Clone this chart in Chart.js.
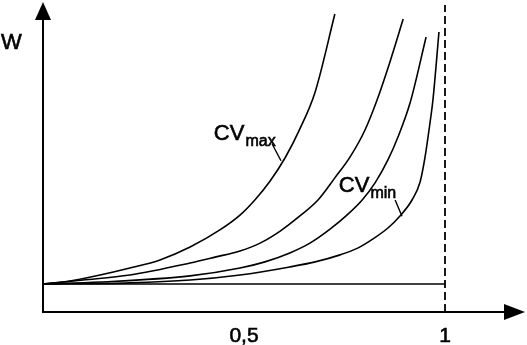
<!DOCTYPE html>
<html lang="en">
<head>
<title>W curves</title>
<meta charset="UTF-8">
<script src="https://cdn.jsdelivr.net/npm/chart.js@4.4.1/dist/chart.umd.min.js"></script>
<style>
body {margin:0;background:#fff;}
canvas {display:block;}
</style>
</head>
<body>
<canvas id="chartW" width="527" height="345"></canvas>
<script>
// curves, x = relative value, y = W (baseline W0 = 1)
var xCVmax = [0, 0.067, 0.142, 0.216, 0.291, 0.366, 0.440, 0.490, 0.527, 0.565, 0.602, 0.639, 0.677, 0.726];
var yCVmax = [1.0, 1.11, 1.32, 1.57, 1.86, 2.32, 2.93, 3.46, 4.0, 4.68, 5.5, 6.54, 7.86, 10.64];

var xCurve2 = [0, 0.100, 0.216, 0.366, 0.428, 0.490, 0.540, 0.590, 0.639, 0.684, 0.726, 0.764, 0.801, 0.831, 0.863, 0.896];
var yCurve2 = [1.0, 1.14, 1.32, 1.75, 1.96, 2.18, 2.46, 2.89, 3.43, 4.0, 4.79, 5.54, 6.5, 7.57, 8.93, 10.46];

var xCurve3 = [0, 0.142, 0.366, 0.490, 0.552, 0.614, 0.664, 0.714, 0.756, 0.794, 0.826, 0.858, 0.883, 0.913, 0.953];
var yCurve3 = [1.0, 1.07, 1.29, 1.57, 1.79, 2.11, 2.46, 2.96, 3.46, 4.0, 4.61, 5.43, 6.25, 7.46, 9.82];

var xCVmin = [0, 0.216, 0.366, 0.490, 0.614, 0.677, 0.739, 0.784, 0.821, 0.858, 0.888, 0.918, 0.938, 0.950, 0.963, 0.970, 0.985];
var yCVmin = [1.0, 1.04, 1.14, 1.32, 1.61, 1.79, 2.04, 2.29, 2.61, 3.0, 3.43, 4.0, 4.64, 5.5, 6.79, 7.57, 10.0];

var xBase = [0, 1];
var yBase = [1, 1];

var xLimit = [1, 1];
var yLimit = [0, 10.96];

var xTickValues = [0.5, 1];
var xTickLabels = ["0,5", "1"];

function pts(xs, ys) {
  var out = [];
  for (var i = 0; i < xs.length; i++) out.push({x: xs[i], y: ys[i]});
  return out;
}

function curve(xs, ys) {
  return {
    data: pts(xs, ys),
    borderColor: "#000",
    borderWidth: 1.6,
    pointRadius: 0,
    fill: false,
    cubicInterpolationMode: "monotone"
  };
}

// axes with arrows, tick labels and the CV labels
var decor = {
  id: "decor",
  afterDatasetsDraw: function(chart) {
    var ctx = chart.ctx;
    var sx = chart.scales.x, sy = chart.scales.y;
    var x0 = sx.getPixelForValue(0), y0 = sy.getPixelForValue(0);
    var right = chart.chartArea.right, top = chart.chartArea.top;
    ctx.save();
    ctx.strokeStyle = "#000";
    ctx.fillStyle = "#000";
    ctx.lineWidth = 2;
    ctx.beginPath();
    ctx.moveTo(x0, y0 + 1);
    ctx.lineTo(x0, top + 12);
    ctx.moveTo(x0 - 1, y0);
    ctx.lineTo(right - 14, y0);
    ctx.stroke();
    // arrow heads
    ctx.beginPath();
    ctx.moveTo(x0, top);
    ctx.lineTo(x0 - 8, top + 18);
    ctx.lineTo(x0 + 8, top + 18);
    ctx.closePath();
    ctx.fill();
    ctx.beginPath();
    ctx.moveTo(right, y0);
    ctx.lineTo(right - 21, y0 - 8);
    ctx.lineTo(right - 21, y0 + 8);
    ctx.closePath();
    ctx.fill();

    // slightly heavy text, like the scanned original
    ctx.lineWidth = 0.6;
    function text(s, x, y) {
      ctx.fillText(s, x, y);
      ctx.strokeText(s, x, y);
    }

    ctx.font = "21px 'Liberation Sans', Arial, sans-serif";
    ctx.textAlign = "center";
    ctx.textBaseline = "alphabetic";
    for (var i = 0; i < xTickValues.length; i++) {
      text(xTickLabels[i], sx.getPixelForValue(xTickValues[i]), y0 + 30);
    }
    ctx.textAlign = "left";
    ctx.font = "22px 'Liberation Sans', Arial, sans-serif";
    text("W", 1, 49);

    // labels with subscripts
    function label(main, sub, xv, yv) {
      var px = sx.getPixelForValue(xv), py = sy.getPixelForValue(yv);
      ctx.font = "22px 'Liberation Sans', Arial, sans-serif";
      text(main, px, py);
      var w = ctx.measureText(main).width;
      ctx.font = "16px 'Liberation Sans', Arial, sans-serif";
      text(sub, px + w + 1, py + 6);
    }
    function leader(xa, ya, xb, yb) {
      ctx.lineWidth = 1.4;
      ctx.beginPath();
      ctx.moveTo(sx.getPixelForValue(xa), sy.getPixelForValue(ya));
      ctx.lineTo(sx.getPixelForValue(xb), sy.getPixelForValue(yb));
      ctx.stroke();
      ctx.lineWidth = 0.6;
    }
    label("CV", "max", 0.425, 6.14);
    leader(0.570, 6.0, 0.592, 5.4);
    label("CV", "min", 0.736, 4.29);
    leader(0.876, 4.0, 0.893, 3.42);
    ctx.restore();
  }
};

new Chart("chartW", {
  type: "line",
  data: {
    datasets: [
      curve(xCVmax, yCVmax),
      curve(xCurve2, yCurve2),
      curve(xCurve3, yCurve3),
      curve(xCVmin, yCVmin),
      {
        data: pts(xBase, yBase),
        borderColor: "#000",
        borderWidth: 1.6,
        pointRadius: 0,
        tension: 0
      },
      {
        data: pts(xLimit, yLimit),
        borderColor: "#000",
        borderWidth: 1.8,
        borderDash: [8, 4],
        pointRadius: 0,
        tension: 0
      }
    ]
  },
  options: {
    responsive: false,
    animation: false,
    devicePixelRatio: 1,
    layout: {padding: {left: 43, right: 2, top: 2, bottom: 33}},
    plugins: {legend: {display: false}, tooltip: {enabled: false}},
    scales: {
      x: {type: "linear", display: false, min: 0, max: 1.199},
      y: {display: false, min: 0, max: 11.07}
    }
  },
  plugins: [decor]
});
</script>
</body>
</html>
